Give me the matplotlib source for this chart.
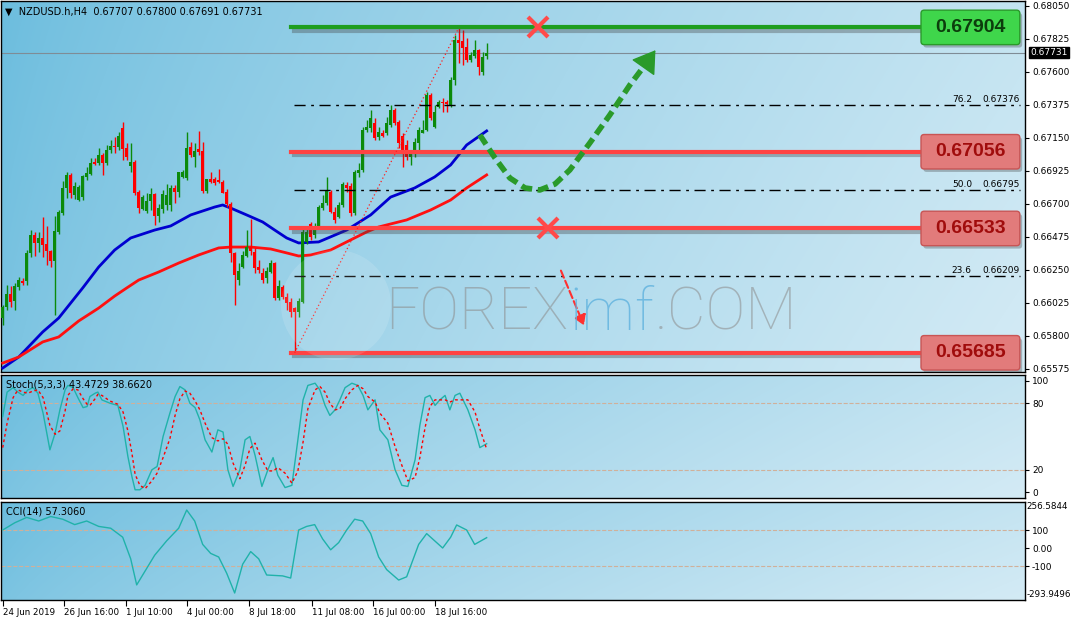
import numpy as np
import matplotlib.pyplot as plt
import matplotlib.patheffects as pe
from matplotlib.patches import FancyBboxPatch, Ellipse
from matplotlib.ticker import FormatStrFormatter

# === 1. Data: NZDUSD H4 candles ===
opens = [0.65922, 0.65997, 0.66086, 0.66038, 0.66134, 0.66175, 0.66175, 0.66366, 0.66488, 0.66434,
         0.66468, 0.66427, 0.66379, 0.66311, 0.66509, 0.66638, 0.66809, 0.66898, 0.66761, 0.66727,
         0.66747, 0.66884, 0.66904, 0.66986, 0.66979, 0.67034, 0.66979, 0.67068, 0.67095, 0.67088,
         0.67218, 0.67082, 0.66959, 0.66986, 0.66782, 0.66666, 0.66652, 0.66720, 0.66768, 0.66618,
         0.66666, 0.66693, 0.66693, 0.66809, 0.66782, 0.66884, 0.66877, 0.67088, 0.67020, 0.67075,
         0.67061, 0.66788, 0.66870, 0.66870, 0.66864, 0.66850, 0.66782, 0.66700, 0.66366, 0.66181,
         0.66270, 0.66345, 0.66406, 0.66372, 0.66270, 0.66229, 0.66195, 0.66236, 0.66297, 0.66059,
         0.66134, 0.66065, 0.66031, 0.65990, 0.65963, 0.66031, 0.66441, 0.66563, 0.66488, 0.66543,
         0.66672, 0.66707, 0.66782, 0.66645, 0.66611, 0.66693, 0.66830, 0.66822, 0.66638, 0.66911,
         0.66932, 0.67204, 0.67218, 0.67252, 0.67157, 0.67184, 0.67184, 0.67239, 0.67341, 0.67259,
         0.67164, 0.67102, 0.67020, 0.67048, 0.67116, 0.67184, 0.67204, 0.67443, 0.67225, 0.67361,
         0.67395, 0.67395, 0.67375, 0.67545, 0.67818, 0.67811, 0.67770, 0.67682, 0.67709, 0.67750,
         0.67600, 0.67707]
highs = [0.66011, 0.66147, 0.66140, 0.66161, 0.66202, 0.66195, 0.66386, 0.66522, 0.66509, 0.66509,
         0.66611, 0.66550, 0.66386, 0.66618, 0.66660, 0.66857, 0.66918, 0.66911, 0.66850, 0.66830,
         0.66898, 0.66952, 0.67013, 0.67013, 0.67082, 0.67048, 0.67102, 0.67136, 0.67157, 0.67191,
         0.67259, 0.67116, 0.67116, 0.67000, 0.66795, 0.66761, 0.66775, 0.66809, 0.66775, 0.66700,
         0.66795, 0.66836, 0.66830, 0.66830, 0.66918, 0.66932, 0.67191, 0.67123, 0.67116, 0.67198,
         0.67123, 0.66870, 0.66918, 0.66884, 0.66938, 0.66864, 0.66802, 0.66713, 0.66372, 0.66297,
         0.66379, 0.66522, 0.66597, 0.66400, 0.66318, 0.66263, 0.66270, 0.66318, 0.66304, 0.66181,
         0.66147, 0.66093, 0.66059, 0.65997, 0.66059, 0.66543, 0.66543, 0.66577, 0.66570, 0.66693,
         0.66761, 0.66884, 0.66795, 0.66679, 0.66713, 0.66850, 0.66850, 0.66843, 0.66932, 0.66979,
         0.67225, 0.67273, 0.67341, 0.67286, 0.67225, 0.67204, 0.67293, 0.67375, 0.67354, 0.67273,
         0.67184, 0.67136, 0.67068, 0.67150, 0.67225, 0.67273, 0.67464, 0.67457, 0.67375, 0.67409,
         0.67423, 0.67409, 0.67566, 0.67852, 0.67900, 0.67886, 0.67832, 0.67736, 0.67818, 0.67757,
         0.67736, 0.67800]
lows = [0.65875, 0.65977, 0.65997, 0.65977, 0.66113, 0.66147, 0.66147, 0.66338, 0.66345, 0.66372,
        0.66338, 0.66284, 0.66270, 0.65943, 0.66495, 0.66625, 0.66741, 0.66741, 0.66734, 0.66720,
        0.66727, 0.66864, 0.66898, 0.66966, 0.66966, 0.66898, 0.66966, 0.67048, 0.67048, 0.67068,
        0.67000, 0.67000, 0.66918, 0.66761, 0.66638, 0.66659, 0.66638, 0.66659, 0.66556, 0.66577,
        0.66638, 0.66659, 0.66652, 0.66707, 0.66747, 0.66877, 0.66864, 0.67020, 0.66952, 0.67034,
        0.66775, 0.66775, 0.66843, 0.66830, 0.66843, 0.66775, 0.66679, 0.66304, 0.66011, 0.66147,
        0.66263, 0.66338, 0.66352, 0.66229, 0.66229, 0.66161, 0.66161, 0.66229, 0.66045, 0.66045,
        0.66052, 0.65977, 0.65929, 0.65685, 0.65929, 0.66025, 0.66427, 0.66454, 0.66468, 0.66536,
        0.66659, 0.66693, 0.66638, 0.66570, 0.66604, 0.66679, 0.66782, 0.66618, 0.66625, 0.66884,
        0.66918, 0.67191, 0.67191, 0.67136, 0.67136, 0.67157, 0.67170, 0.67225, 0.67239, 0.67082,
        0.66952, 0.67000, 0.66966, 0.67020, 0.67048, 0.67184, 0.67198, 0.67273, 0.67218, 0.67354,
        0.67327, 0.67327, 0.67361, 0.67511, 0.67661, 0.67648, 0.67668, 0.67668, 0.67695, 0.67580,
        0.67580, 0.67691]
closes = [0.65997, 0.66086, 0.66031, 0.66140, 0.66181, 0.66161, 0.66366, 0.66488, 0.66434, 0.66468,
          0.66420, 0.66379, 0.66311, 0.66516, 0.66645, 0.66809, 0.66898, 0.66775, 0.66822, 0.66816,
          0.66891, 0.66911, 0.66979, 0.66973, 0.67034, 0.66979, 0.67068, 0.67095, 0.67088, 0.67164,
          0.67075, 0.67020, 0.66986, 0.66775, 0.66672, 0.66747, 0.66720, 0.66768, 0.66618, 0.66672,
          0.66768, 0.66761, 0.66809, 0.66782, 0.66918, 0.66918, 0.67082, 0.67034, 0.67061, 0.67054,
          0.66788, 0.66870, 0.66850, 0.66843, 0.66850, 0.66775, 0.66700, 0.66366, 0.66216, 0.66243,
          0.66352, 0.66406, 0.66379, 0.66263, 0.66250, 0.66181, 0.66243, 0.66297, 0.66059, 0.66140,
          0.66065, 0.66025, 0.65963, 0.65963, 0.66038, 0.66509, 0.66509, 0.66475, 0.66543, 0.66679,
          0.66707, 0.66788, 0.66645, 0.66591, 0.66693, 0.66836, 0.66809, 0.66638, 0.66918, 0.66932,
          0.67204, 0.67225, 0.67286, 0.67150, 0.67191, 0.67164, 0.67252, 0.67341, 0.67252, 0.67116,
          0.67048, 0.67020, 0.67054, 0.67123, 0.67204, 0.67204, 0.67443, 0.67286, 0.67327, 0.67395,
          0.67389, 0.67382, 0.67545, 0.67818, 0.67798, 0.67764, 0.67682, 0.67716, 0.67750, 0.67634,
          0.67702, 0.67731]

# moving averages, read every few bars
ma_blue_x = [0, 4, 10, 14, 20, 24, 28, 32, 38, 42, 47, 53, 55, 57, 61, 65, 68, 71, 74, 79,
             86, 92, 97, 103, 108, 112, 116, 121]
ma_blue = [0.65581, 0.65656, 0.65827, 0.65922, 0.66127, 0.66270, 0.66386, 0.66468, 0.66522, 0.66550,
           0.66625, 0.66679, 0.66693, 0.66672, 0.66625, 0.66577, 0.66522, 0.66468, 0.66434, 0.66441,
           0.66522, 0.66625, 0.66747, 0.66809, 0.66884, 0.66966, 0.67102, 0.67198]
ma_red_x = [0, 4, 10, 14, 19, 24, 28, 31, 34, 39, 44, 49, 54, 57, 62, 67, 71, 74, 77, 82,
            86, 91, 94, 101, 107, 112, 116, 121]
ma_red = [0.65615, 0.65656, 0.65759, 0.65793, 0.65902, 0.65990, 0.66072, 0.66127, 0.66181, 0.66236,
          0.66297, 0.66352, 0.66400, 0.66406, 0.66406, 0.66393, 0.66366, 0.66345, 0.66352, 0.66386,
          0.66441, 0.66509, 0.66543, 0.66591, 0.66659, 0.66727, 0.66809, 0.66898]

# stochastic (5,3,3)
stoch_x = [0, 1.1, 2.6, 3.8, 5.1, 6.3, 7.6, 8.8, 10.1, 11.8, 13.1, 14.3, 15.6, 16.3, 17.6, 18.8,
           20.1, 21.1, 21.8, 23.1, 23.8, 24.8, 26.8, 28.8, 30.1, 31.3, 32.3, 33.1, 34.3, 35.6, 37.3,
           38.6, 40.1, 41.8, 43.1, 44.3, 45.6, 46.8, 48.1, 49.3, 50.6, 52.3, 53.8, 55.1, 56.3, 57.6,
           59.3, 60.6, 61.8, 63.1, 64.8, 66.3, 67.6, 68.8, 70.6, 72.3, 73.8, 75.1, 76.3, 78.1, 79.3,
           80.6, 81.8, 83.1, 84.3, 85.6, 87.3, 88.8, 90.1, 91.3, 93.1, 94.3, 96.3, 98.1, 99.8, 101.3,
           103.1, 104.3, 105.6, 106.8, 108.1, 109.3, 110.6, 111.8, 113.1, 114.3, 116.3, 118.1, 119.3,
           121]
stoch_main = [68, 90, 94, 90, 87, 92, 94, 89, 71, 38, 53, 74, 92, 96, 94, 85,
              76, 77, 86, 89, 90, 83, 80, 78, 59, 32, 14, 2, 2, 6, 20,
              23, 50, 71, 86, 95, 92, 80, 76, 65, 47, 36, 56, 54, 20, 5,
              20, 47, 50, 33, 5, 20, 31, 15, 4, 6, 47, 83, 96, 98, 92,
              78, 69, 74, 83, 94, 98, 96, 87, 74, 83, 56, 47, 20, 6, 5,
              29, 60, 85, 87, 78, 83, 87, 74, 87, 89, 74, 56, 40,
              43.47]
stoch_signal = [40, 62, 85, 92, 90, 89, 91, 92, 85, 60, 52, 55, 73, 87, 93, 92,
                84, 79, 78, 84, 88, 87, 82, 79, 72, 55, 35, 16, 6, 3, 10,
                17, 31, 48, 69, 84, 91, 89, 82, 74, 62, 49, 46, 48, 43, 26,
                12, 24, 39, 44, 29, 19, 19, 22, 17, 8, 19, 45, 75, 92, 95,
                90, 80, 74, 75, 84, 92, 96, 93, 86, 81, 71, 62, 41, 24, 10,
                13, 31, 58, 77, 83, 83, 83, 81, 83, 83, 83, 72, 57,
                38.66]

# CCI(14)
cci_x = [0, 3, 6, 9, 12, 15, 18, 21, 24, 27, 30, 32, 33.5, 35, 38, 41, 44, 46, 48, 50, 52, 54,
         56, 58, 60, 62, 64, 66, 70, 72, 74, 76, 78, 80, 82, 84, 86, 88, 90, 92, 94, 96, 99, 101,
         104, 106, 108, 110, 112, 113.5, 116, 118, 121]
cci = [100, 140, 170, 150, 175, 160, 130, 150, 120, 110, 60, -60, -205, -150, -40, 40, 110, 211,
       150, 20, -30, -50, -140, -250, -90, -20, -60, -150, -155, -167, 100, 120, 130, 50, -10, 30,
       100, 160, 150, 80, -50, -120, -178, -160, 20, 80, 40, 0, 60, 128, 100, 20, 57.31]

# levels and fibonacci
res_level = 0.67904
sup_levels = [0.67056, 0.66533, 0.65685]
fib_levels = [0.67376, 0.66795, 0.66209]
fib_names = ['76.2', '50.0', '23.6']
price_ticks = [0.68050, 0.67825, 0.67600, 0.67375, 0.67150, 0.66925, 0.66700, 0.66475,
               0.66250, 0.66025, 0.65800, 0.65575]
last_price = 0.67731
time_ticks = [0, 15.3, 30.8, 46.1, 61.6, 77.3, 92.6, 108]
time_labels = ['24 Jun 2019', '26 Jun 16:00', '1 Jul 10:00', '4 Jul 00:00', '8 Jul 18:00',
               '11 Jul 08:00', '16 Jul 00:00', '18 Jul 16:00']

# scenario arrow (green) path
path_x = [119.3, 123.1, 126.8, 130.6, 134.3, 138.1, 141.8, 146.8, 151.8, 156.8, 160.6]
path_y = [0.67170, 0.67013, 0.66877, 0.66809, 0.66795, 0.66836, 0.66932, 0.67116, 0.67307,
          0.67511, 0.67648]

# === 2. Figure layout ===
W, H = 1072, 623


def rect(x0, y0, x1, y1):
    return [x0 / W, 1 - y1 / H, (x1 - x0) / W, (y1 - y0) / H]


fig = plt.figure(figsize=(W / 100, H / 100), dpi=100)
fig.patch.set_facecolor('white')
ax = fig.add_axes(rect(1, 1, 1025, 372))
ax_st = fig.add_axes(rect(1, 375, 1025, 498), sharex=ax)
ax_cci = fig.add_axes(rect(1, 502, 1025, 600), sharex=ax)


def background(a):
    gx, gy = np.meshgrid(np.linspace(0, 1, 300), np.linspace(0, 1, 80))
    left = np.array([0.42, 0.74, 0.87])
    right = np.array([0.83, 0.92, 0.96])
    t = np.clip(gx ** 0.75 * 0.85 + gy * 0.15, 0, 1)
    img = left + (right - left) * t[..., None]
    a.imshow(img, extent=[0, 1, 0, 1], transform=a.transAxes, aspect='auto',
             zorder=0, origin='upper', interpolation='bilinear')
    for s in a.spines.values():
        s.set_color('black')
        s.set_linewidth(1)


for a in (ax, ax_st, ax_cci):
    background(a)

# === 3. Candles and moving averages ===
o, h, l, c = map(np.array, (opens, highs, lows, closes))
idx = np.arange(len(o))
cols = np.where(c >= o, '#0b8a0b', '#ff0000')
ax.vlines(idx, l, h, colors=cols, lw=1, zorder=4)
ax.bar(idx, np.maximum(np.abs(c - o), 0.00007), bottom=np.minimum(o, c), width=0.78,
       color=cols, lw=0, zorder=4)
ax.plot(ma_blue_x, ma_blue, color='#0000d0', lw=2, zorder=3)
ax.plot(ma_red_x, ma_red, color='#ff1010', lw=2, zorder=3)

# current price line
ax.axhline(last_price, color='#7f8c96', lw=0.8, zorder=2)

# watermark (logo + FOREXimf.COM)
fig.patches.append(Ellipse((336 / W, 1 - 305 / H), 110 / W, 110 / H, transform=fig.transFigure,
                           fc='white', alpha=0.13, ec='none', zorder=1))
wm_kw = dict(fontsize=43, family='Roboto', weight='light', zorder=1)
t1 = fig.text(385 / W, 1 - 330 / H, 'FOREX', color='#8c8c8c', alpha=0.55, **wm_kw)
fig.canvas.draw()
x_next = t1.get_window_extent().x1 / W + 0.001
t2 = fig.text(x_next, 1 - 330 / H, 'imf', color='#5fb2de', alpha=0.8, **wm_kw)
fig.canvas.draw()
x_next = t2.get_window_extent().x1 / W + 0.001
fig.text(x_next, 1 - 330 / H, '.COM', color='#8c8c8c', alpha=0.55, **wm_kw)

# === 4. Levels, fibonacci, annotations ===
shadow = [pe.SimpleLineShadow(offset=(1.5, -2.5), shadow_color='#404040', alpha=0.35), pe.Normal()]
ax.plot([72.2, 229.6], [res_level] * 2, color='#1f9e1f', lw=3, zorder=5, path_effects=shadow)
for lv in sup_levels:
    ax.plot([72.2, 229.6], [lv] * 2, color='#ff4343', lw=3, zorder=5, path_effects=shadow)

for lv, nm in zip(fib_levels, fib_names):
    ax.plot([72.9, 254.3], [lv] * 2, color='black', lw=1, dashes=[8, 4, 2, 4], zorder=5)
    ax.text(237.3, lv + 0.00008, nm, fontsize=6.5, va='bottom', ha='left', zorder=6)
    ax.text(254.3, lv + 0.00008, '%.5f' % lv, fontsize=6.5, va='bottom', ha='right', zorder=6)
ax.plot([73, 114], [0.65685, 0.67900], color='#ff2020', lw=0.9, ls=(0, (1, 2)), zorder=5)

box_h = 0.00235
asp = 0.0000682 / 0.25


def label_box(level, fc, ec, tc):
    sh = FancyBboxPatch((229.6 + 0.6, level - box_h / 2 - 0.0002), 24.7, box_h,
                        boxstyle='round,pad=0,rounding_size=0.8', mutation_aspect=asp,
                        fc='#303030', ec='none', alpha=0.3, zorder=6)
    bx = FancyBboxPatch((229.6, level - box_h / 2), 24.7, box_h,
                        boxstyle='round,pad=0,rounding_size=0.8', mutation_aspect=asp,
                        fc=fc, ec=ec, lw=1, zorder=7)
    ax.add_patch(sh)
    ax.add_patch(bx)
    ax.text(241.95, level, '%.5f' % level, ha='center', va='center', fontsize=14,
            weight='bold', family='Liberation Sans', color=tc, zorder=8)


label_box(res_level, '#3fd64b', '#2a9a2a', '#0c3d0c')
for lv in sup_levels:
    label_box(lv, '#e27b7b', '#c85555', '#a00c0c')

# crosses
ax.plot([133.8], [res_level], marker='x', ms=15, mew=3, color='#ff4a4a', zorder=8)
ax.plot([136.3], [sup_levels[1]], marker='x', ms=15, mew=3, color='#ff4a4a', zorder=8)

# green dashed scenario curve
ax.plot(path_x, path_y, color='#2a9a2a', lw=4, dashes=(2, 1), zorder=8,
        solid_capstyle='butt')
ax.annotate('', xy=(163.6, 0.67764), xytext=(path_x[-1], path_y[-1]),
            arrowprops=dict(arrowstyle='-|>,head_length=0.7,head_width=0.45',
                            color='#2a9a2a', lw=1, mutation_scale=20), zorder=8)
# red dashed arrow
ax.annotate('', xy=(145.6, 0.65854), xytext=(139.3, 0.66263),
            arrowprops=dict(arrowstyle='-|>,head_length=0.5,head_width=0.3',
                            color='#ff3030', lw=1.5, ls='--', mutation_scale=12), zorder=8)

# header text
ax.text(0.004, 0.985, '\u25bc  NZDUSD.h,H4  0.67707 0.67800 0.67691 0.67731',
        transform=ax.transAxes, fontsize=7, va='top', ha='left', zorder=9)

# === 5. Stochastic panel ===
ax_st.plot(stoch_x, stoch_main, color='#20b2aa', lw=1, zorder=3)
ax_st.plot(stoch_x, stoch_signal, color='#ff0000', lw=1, dashes=(2, 2), zorder=3)
for lv in (80, 20):
    ax_st.axhline(lv, color='#d0b09a', lw=0.8, ls='--', zorder=2)
ax_st.set_ylim(-5.4, 105.4)
ax_st.text(0.005, 0.96, 'Stoch(5,3,3) 43.4729 38.6620', transform=ax_st.transAxes,
           fontsize=7, va='top', ha='left')

# === 6. CCI panel ===
ax_cci.plot(cci_x, cci, color='#20b2aa', lw=1, zorder=3)
for lv in (100, -100):
    ax_cci.axhline(lv, color='#d0b09a', lw=0.8, ls='--', zorder=2)
ax_cci.set_ylim(-288.9, 255.6)
ax_cci.text(0.005, 0.95, 'CCI(14) 57.3060', transform=ax_cci.transAxes,
            fontsize=7, va='top', ha='left')

# === 7. Axes, ticks ===
ax.set_xlim(-0.425, 255.6)
ax.set_ylim(0.65554, 0.68084)
for a in (ax, ax_st, ax_cci):
    a.yaxis.tick_right()
    a.tick_params(axis='y', direction='out', length=3, labelsize=6.5, pad=2, width=0.8)
    a.tick_params(axis='x', bottom=False, labelbottom=False)
ax.set_yticks(price_ticks)
ax.yaxis.set_major_formatter(FormatStrFormatter('%.5f'))
ax.annotate('%.5f' % last_price, xy=(1.0, last_price), xycoords=('axes fraction', 'data'),
            xytext=(4, 0), textcoords='offset points', ha='left', va='center', fontsize=6.5,
            color='white', bbox=dict(boxstyle='square,pad=0.12', fc='black', ec='black'),
            annotation_clip=False, zorder=10)
ax_st.set_yticks([100, 80, 20, 0])
ax_cci.set_yticks([100, 0, -100])
ax_cci.set_yticklabels(['100', '0.00', '-100'])
ax_cci.text(1.0015, 0.949, '256.5844', transform=ax_cci.transAxes, fontsize=6.3, va='center')
ax_cci.text(1.0015, 0.061, '-293.9496', transform=ax_cci.transAxes, fontsize=6.3, va='center')

ax_cci.set_xticks(time_ticks)
ax_cci.set_xticklabels(time_labels)
ax_cci.tick_params(axis='x', bottom=True, labelbottom=True, direction='out', length=4,
                   labelsize=6.3, pad=2)
for lbl in ax_cci.get_xticklabels():
    lbl.set_ha('left')

plt.savefig('out.png', dpi=100, facecolor='white')
plt.close()
